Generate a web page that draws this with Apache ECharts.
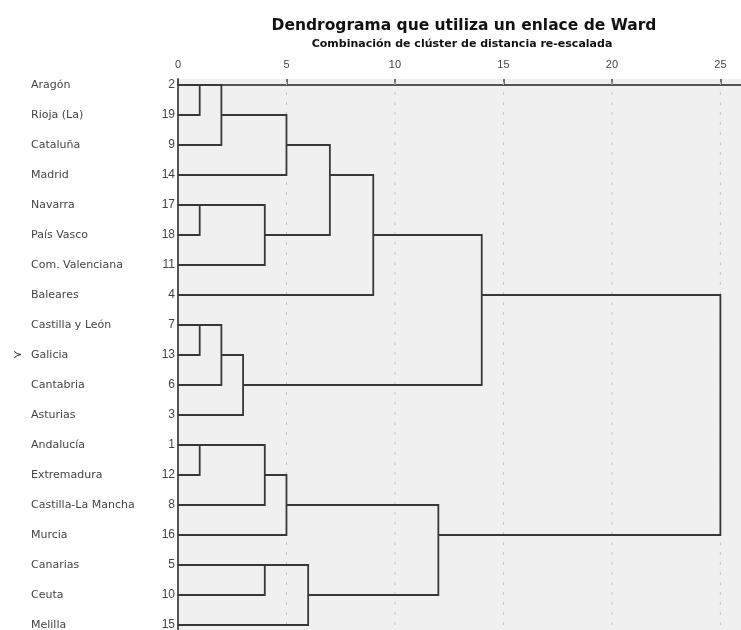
<!DOCTYPE html>
<html>
<head>
<meta charset="utf-8">
<script src="https://cdn.jsdelivr.net/npm/echarts@6/dist/echarts.min.js"></script>
<style>
html,body{margin:0;padding:0;background:#fff;}
#chart{width:741px;height:630px;}
</style>
</head>
<body>
<div id="chart"></div>
<script>
// Leaves in display order (top to bottom)
const leafNames = ['Aragón','Rioja (La)','Cataluña','Madrid','Navarra','País Vasco','Com. Valenciana','Baleares','Castilla y León','Galicia','Cantabria','Asturias','Andalucía','Extremadura','Castilla-La Mancha','Murcia','Canarias','Ceuta','Melilla'];
const leafNums = [2,19,9,14,17,18,11,4,7,13,6,3,1,12,8,16,5,10,15];
const markedLeaf = 'Galicia';
// Merges: [childA, childB, distance]; ids 0..18 are leaves, 19+k is the k-th merge
const mergeA = [0, 19, 20, 4, 22, 21, 24, 8, 26, 27, 25, 12, 30, 31, 16, 33, 32, 29];
const mergeB = [1, 2, 3, 5, 6, 23, 7, 9, 10, 11, 28, 13, 14, 15, 17, 18, 34, 35];
const mergeDist = [1, 2, 5, 1, 4, 7, 9, 1, 2, 3, 14, 1, 4, 5, 4, 6, 12, 25];
const xTicks = [0, 5, 10, 15, 20, 25];

const nLeaf = leafNames.length;
const rowOf = [], hOf = [];
for (let i = 0; i < nLeaf; i++) { rowOf[i] = i; hOf[i] = 0; }
const segs = [];
for (let k = 0; k < mergeA.length; k++) {
  const a = mergeA[k], b = mergeB[k], d = mergeDist[k];
  segs.push([hOf[a], rowOf[a], d, rowOf[b], hOf[b]]);
  rowOf[nLeaf + k] = Math.floor((rowOf[a] + rowOf[b]) / 2);
  hOf[nLeaf + k] = d;
}
const rows = leafNames.map((_, i) => i);

const chart = echarts.init(document.getElementById('chart'), null, {renderer: 'canvas'});
chart.setOption({
  animation: false,
  title: [
    {text: 'Dendrograma que utiliza un enlace de Ward', left: 459, top: 13, textAlign: 'center',
     textStyle: {fontFamily: 'DejaVu Sans', fontSize: 15.5, fontWeight: 'bold', color: '#111'}},
    {text: 'Combinación de clúster de distancia re-escalada', left: 457, top: 34, textAlign: 'center',
     textStyle: {fontFamily: 'DejaVu Sans', fontSize: 11, fontWeight: 'bold', color: '#111'}}
  ],
  grid: {left: 178, right: 0, top: 79, height: 555, show: true, backgroundColor: '#f0f0f0', borderWidth: 0,
         containLabel: false, outerBoundsMode: 'none'},
  xAxis: {
    type: 'value', position: 'top', min: 0, max: 25.95,
    axisLine: {show: true, lineStyle: {color: '#555', width: 2}},
    axisTick: {show: true, length: 6, customValues: xTicks, lineStyle: {color: '#444', width: 1.5}},
    axisLabel: {customValues: xTicks, margin: 9, fontSize: 11, color: '#444', fontFamily: 'Liberation Sans, Arial'},
    splitLine: {show: false}
  },
  yAxis: [
    {
      type: 'value', inverse: true, min: -0.2, max: 18.3,
      axisLine: {show: true, lineStyle: {color: '#555', width: 2}},
      axisTick: {show: false},
      splitLine: {show: false},
      axisLabel: {customValues: rows, margin: 3, fontSize: 12, color: '#444', fontFamily: 'Liberation Sans, Arial',
        formatter: v => String(leafNums[Math.round(v)])}
    },
    {
      type: 'value', inverse: true, min: -0.2, max: 18.3, position: 'left',
      axisLine: {show: false}, axisTick: {show: false}, splitLine: {show: false},
      axisLabel: {customValues: rows, margin: 165, align: 'left',
        formatter: v => {
          const nm = leafNames[Math.round(v)];
          return (nm === markedLeaf ? '{m|≻}' : '{e|}') + '{t|' + nm + '}';
        },
        rich: {
          m: {width: 18, fontSize: 11, color: '#333', fontFamily: 'DejaVu Sans'},
          e: {width: 18},
          t: {fontSize: 11, color: '#444', fontFamily: 'DejaVu Sans'}
        }
      }
    }
  ],
  series: [
    {
      type: 'custom', xAxisIndex: 0, yAxisIndex: 0,
      silent: true,
      data: xTicks.slice(1).map(v => [v]),
      renderItem: (params, api) => {
        const p1 = api.coord([api.value(0), -0.2]);
        const p2 = api.coord([api.value(0), 18.3]);
        return {type: 'line', shape: {x1: p1[0], y1: p1[1] + 3, x2: p2[0], y2: p2[1]},
          style: {stroke: '#c4c4c4', lineWidth: 1, lineDash: [3, 7]}};
      },
      z: 1
    },
    {
      type: 'custom', xAxisIndex: 0, yAxisIndex: 0,
      silent: true,
      data: segs,
      renderItem: (params, api) => {
        const a = api.coord([api.value(0), api.value(1)]);
        const b = api.coord([api.value(2), api.value(1)]);
        const c = api.coord([api.value(2), api.value(3)]);
        const d = api.coord([api.value(4), api.value(3)]);
        return {type: 'polyline', shape: {points: [a, b, c, d]},
          style: {stroke: '#383838', lineWidth: 1.8, fill: null}};
      },
      z: 3
    }
  ]
});
</script>
</body>
</html>
